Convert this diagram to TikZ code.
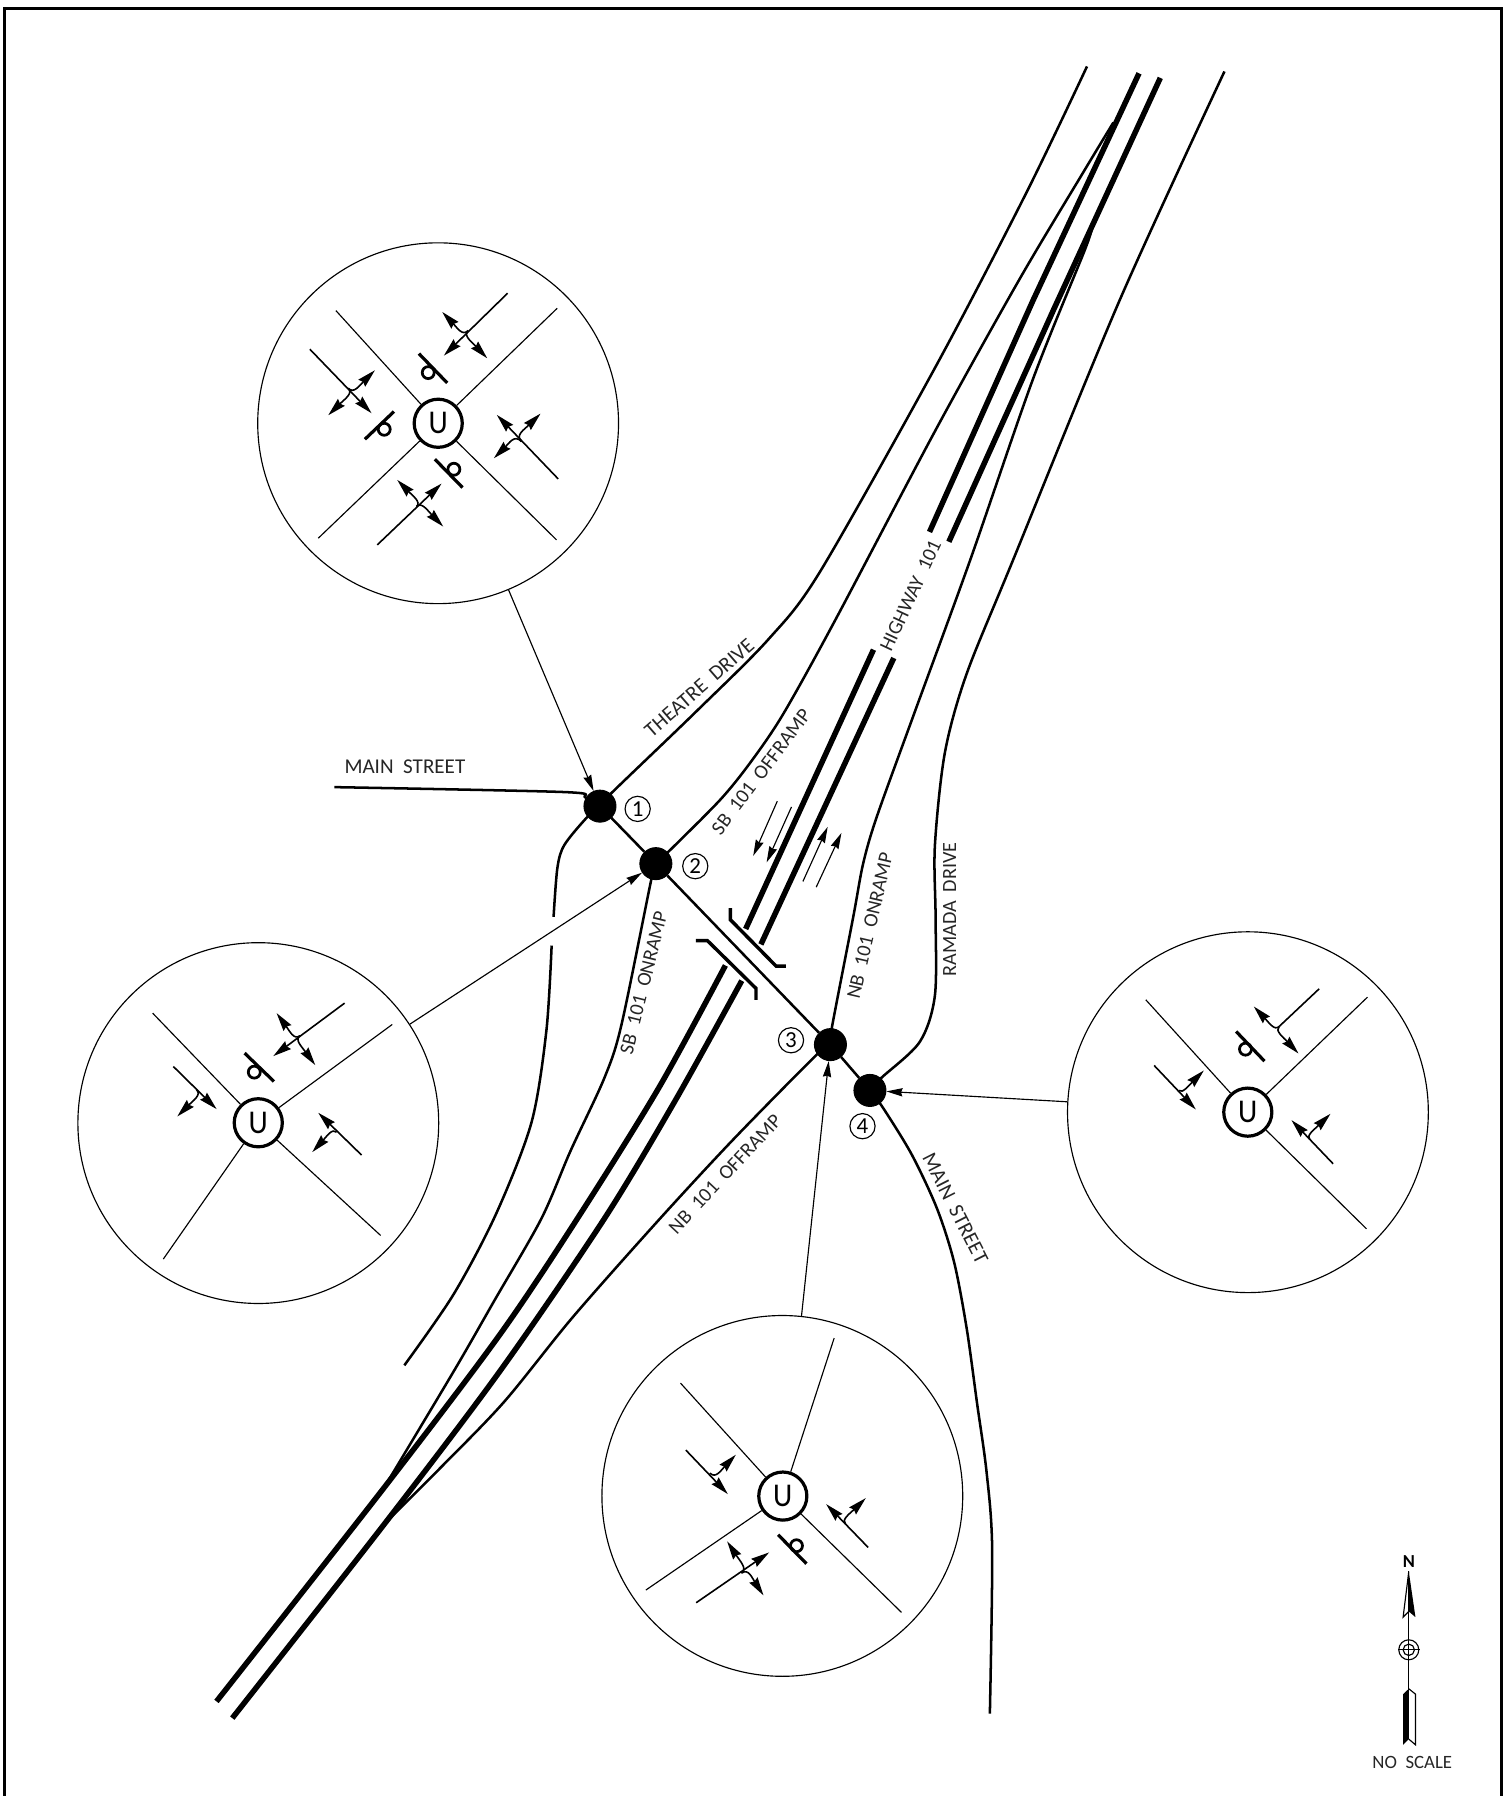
\documentclass[tikz,border=0pt]{standalone}
\usepackage{fontspec}
\setmainfont[WordSpace=2]{Carlito}
\usetikzlibrary{arrows.meta,calc}
\tikzset{
  road/.style={line width=1.1pt,line join=round},
  hwy/.style={line width=2.4pt,line join=round},
  bridge/.style={line width=1.5pt,line join=miter},
  hair/.style={line width=0.5pt},
  lane/.style={line width=0.7pt},
  tipA/.style={-{Stealth[length=8pt,width=4.2pt,inset=0.8pt]}},
  leader/.style={hair,-{Stealth[length=7pt,width=3.6pt,inset=0.6pt]}},
  junction/.style={circle,fill=black,draw=black,inner sep=0pt,minimum size=14pt},
  numbered/.style={circle,draw=black,line width=0.5pt,inner sep=0pt,minimum size=11pt,font=\fontsize{10}{11}\selectfont},
  callout/.style={circle,draw=black,line width=0.5pt,inner sep=0pt,minimum size=157.5pt},
  signal/.style={circle,draw=black,line width=1.4pt,inner sep=0pt,minimum size=21pt,font=\fontsize{14.5}{15}\selectfont},
  label/.style={inner sep=0pt,text=black!85,font=\fontsize{9.2}{11}\selectfont},
  ramp/.style={label,font=\fontsize{8.8}{11}\selectfont},
  zoomed/.style={x=0.14548pt,y=-0.14548pt},
}
\newcommand{\turnarrow}[3]{%
  \coordinate (tk) at ($(#2)!(#3)!(#1)$);
  \coordinate (tc) at ($(#2)!1.4!(tk)$);
  \coordinate (td) at ($(tk)!0.3!(#3)$);
  \coordinate (tm) at ($(tk)!0.55!(#3)$);
  \draw[lane,tipA] (#2) .. controls (tc) and (td) .. (tm) -- (#3);}
\newcommand{\barloop}[3]{\draw[line width=1.4pt] (#1) -- (#2); \draw[line width=1.2pt] (#3) circle[radius=18];}
\begin{document}
\begin{tikzpicture}[x=0.5pt,y=-0.5pt]
\clip (0,0) rectangle (1312,1568);
\draw[line width=1.5pt] (3.9,7.4) rectangle (1311,1580);

% junctions and callouts
\node[junction] (j1) at (523.8,703.8) {};
\node[junction] (j2) at (572.6,754) {};
\node[junction] (j3) at (725,912) {};
\node[junction] (j4) at (759.5,952) {};
\node[numbered] (n1) at (556.7,706.2) {1};
\node[numbered] (n2) at (607,756.2) {2};
\node[numbered] (n3) at (690.6,908.2) {3};
\node[numbered] (n4) at (753,983.2) {4};
\node[callout] (c1) at (382.5,369.5) {};
\node[callout] (c2) at (225.5,980.5) {};
\node[callout] (c3) at (683,1306) {};
\node[callout] (c4) at (1089.5,971) {};
\draw[leader] (c1) -- (j1);
\draw[leader] (c2) -- (j2);
\draw[leader] (c3) -- (j3);
\draw[leader] (c4) -- (j4);

% main cross street
\draw[road] (j1) -- (j2) -- (j3) -- (j4);

% highway
\draw[hwy] (994.4,64) -- (902,262) -- (811.5,464.4);
\draw[hwy] (1013,68) -- (920,270) -- (828.4,473);
\draw[hwy] (762.6,567.2) -- (651,811);
\draw[hwy] (780.3,574.5) -- (664.3,824.5);
\draw[hwy] plot[smooth,tension=0.5] coordinates {(633.3,842.9) (575,950) (504,1064) (436.5,1165) (337.5,1296) (189,1485.4)};
\draw[hwy] plot[smooth,tension=0.5] coordinates {(647.6,856.2) (590,960) (527.6,1064) (436.5,1197) (336,1330) (202.8,1500)};

% surface roads and ramps
\draw[road] plot[smooth,tension=0.5] coordinates {(j1.center) (534.3,691.9) (608,621) (671,558) (716,499) (818,318) (896,168.4) (949,58)};
\draw[road] plot[smooth,tension=0.5] coordinates {(j2.center) (584.3,742.9) (629,698) (656,664.5) (684,623) (729.3,541.2) (817.6,374) (890.4,243.2) (946,150) (972,107)};
\draw[road] plot[smooth,tension=0.5] coordinates {(j3.center) (726,898.5) (744.9,800.6) (753.6,753.8) (765.4,713.3) (797,626) (847,489) (902,330.5) (947.1,218.2) (953,199.5)};
\draw[road] plot[smooth,tension=0.5] coordinates {(j4.center) (769.6,940.9) (803,909.6) (816.2,869.2) (816.8,800.5) (816.2,738.2) (824.9,657.2) (843.8,588.6) (884.5,488.8) (977.6,261.9) (1069,62.4)};
\draw[road] plot[smooth,tension=0.5] coordinates {(292,687.2) (492.6,691.5) (511,696.2) (j1.center)};
\draw[road] plot[smooth,tension=0.5] coordinates {(j1.center) (511.6,714.5) (492.6,737.9) (486.6,757.9) (483.3,800.5)};
\draw[road] plot[smooth,tension=0.5] coordinates {(481.6,825.5) (477,900) (464,980) (433,1060) (396,1130) (353,1192)};
\draw[road] plot[smooth,tension=0.5] coordinates {(j2.center) (568.6,767.9) (542.6,894.5) (527.6,941.2) (498,1005) (472.6,1064) (432,1134.8) (398.6,1193) (344.8,1283) (337,1296)};
\draw[road] plot[smooth,tension=0.5] coordinates {(j3.center) (712.6,921.2) (640,995) (574.3,1066) (500,1150) (440,1224) (384,1282) (336,1330)};
\draw[road] plot[smooth,tension=0.5] coordinates {(j4.center) (771,967.3) (796,1008) (818,1055) (833,1102) (844,1160) (853,1225) (861.3,1285) (866.2,1352) (864.2,1496)};

% overpass
\draw[bridge] (637.6,792.9) -- (637.6,802.9) -- (677.6,843.5) -- (686,843.5);
\draw[bridge] (607.6,821.2) -- (617.6,821.2) -- (660,862.9) -- (660,872.9);

% direction of travel
\coordinate (d1a) at (678.6,699.5); \coordinate (d1b) at (657.6,747.2);
\coordinate (d2a) at (691,704.5);   \coordinate (d2b) at (669.3,752.9);
\coordinate (u1a) at (701,769.5);   \coordinate (u1b) at (722.6,721.9);
\coordinate (u2a) at (712.6,774.5); \coordinate (u2b) at (734.6,727.2);
\draw[leader] (d1a) -- (d1b);
\draw[leader] (d2a) -- (d2b);
\draw[leader] (u1a) -- (u1b);
\draw[leader] (u2a) -- (u2b);

% road labels
\node[label] (t1) at (353.5,669.5) {MAIN STREET};
\node[label,rotate=41] (t2) at (610.5,600.5) {THEATRE DRIVE};
\node[ramp,rotate=53] (t3) at (664.5,674) {SB 101 OFFRAMP};
\node[ramp,rotate=65] (t4) at (795,520) {HIGHWAY 101};
\node[ramp,rotate=76] (t5) at (562,858) {SB 101 ONRAMP};
\node[ramp,rotate=47] (t6) at (633,1025) {NB 101 OFFRAMP};
\node[ramp,rotate=77] (t7) at (759.5,808) {NB 101 ONRAMP};
\node[ramp,rotate=90] (t8) at (829,794) {RAMADA DRIVE};
\node[label,rotate=-63] (t9) at (834,1055) {MAIN STREET};
\node[label,font=\fontsize{8.2}{10}\selectfont] (t10) at (1233,1539) {NO SCALE};

% callout 1
\begin{scope}[shift={(218.2,209.5)},zoomed]
\node[signal] (s1) at (565,550) {\scalebox{.9}[1]{U}};
\draw[hair] (s1) -- (258,212); \draw[hair] (s1) -- (922,205); \draw[hair] (s1) -- (205,895); \draw[hair] (s1) -- (920,900);
\draw[lane,tipA] (773,160) -- (582,347); \turnarrow{773,160}{655,272}{577,216}; \turnarrow{773,160}{655,272}{712,355};
\draw[lane,tipA] (180,328) -- (365,520); \turnarrow{180,328}{295,445}{375,391}; \turnarrow{180,328}{295,445}{235,526};
\draw[lane,tipA] (925,717) -- (741,525); \turnarrow{925,717}{815,605}{872,521}; \turnarrow{925,717}{815,605}{732,655};
\draw[lane,tipA] (382,915) -- (575,731); \turnarrow{382,915}{500,800}{442,720}; \turnarrow{382,915}{500,800}{580,860};
\barloop{507,341}{592,429}{535,398}
\barloop{345,598}{432,515}{403,568}
\barloop{555,658}{638,743}{612,688}
\end{scope}

% callout 2
\begin{scope}[shift={(61.1,820.5)},zoomed]
\node[signal] (s2) at (565,549) {\scalebox{.9}[1]{U}};
\draw[hair] (s2) -- (248,220); \draw[hair] (s2) -- (967,254); \draw[hair] (s2) -- (280,958); \draw[hair] (s2) -- (932,887);
\draw[lane,tipA] (824,190) -- (610,349); \turnarrow{824,190}{690,288}{620,220}; \turnarrow{824,190}{690,288}{736,376};
\draw[lane,tipA] (310,380) -- (440,508); \turnarrow{310,380}{380,450}{322,530};
\draw[lane,tipA] (875,646) -- (745,519); \turnarrow{875,646}{800,577}{727,637};
\barloop{524,340}{612,425}{553,397}
\end{scope}

% callout 3
\begin{scope}[shift={(523.7,1143.5)},zoomed]
\node[signal] (s3) at (549,559) {\scalebox{.9}[1]{U}};
\draw[hair] (s3) -- (242,220); \draw[hair] (s3) -- (703,85); \draw[hair] (s3) -- (138,841); \draw[hair] (s3) -- (905,908);
\draw[lane,tipA] (258,421) -- (384,553); \turnarrow{258,421}{330,490}{408,435};
\draw[lane,tipA] (805,713) -- (679,583); \turnarrow{805,713}{737,643}{798,565};
\draw[lane,tipA] (289,879) -- (508,728); \turnarrow{289,879}{425,790}{382,695}; \turnarrow{289,879}{425,790}{491,857};
\barloop{535,675}{620,762}{590,708}
\end{scope}

% callout 4
\begin{scope}[shift={(925.3,811.8)},zoomed]
\node[signal] (s4) at (564,547) {\scalebox{.9}[1]{U}};
\draw[hair] (s4) -- (258,210); \draw[hair] (s4) -- (923,202); \draw[hair] (s4) -- (920,897);
\draw[lane] (778,177) -- (658,290); \turnarrow{778,177}{658,290}{582,230}; \turnarrow{778,177}{658,290}{716,371};
\draw[lane,tipA] (283,407) -- (408,539); \turnarrow{283,407}{358,482}{432,422};
\draw[lane,tipA] (820,702) -- (695,571); \turnarrow{820,702}{750,630}{812,552};
\barloop{529,305}{614,394}{557,358}
\end{scope}

% north arrow
\begin{scope}[shift={(1169.7,1335.6)},zoomed]
\node[inner sep=0pt,font=\bfseries\fontsize{8}{9}\selectfont] (north) at (207,95) {N};
\draw[hair] (207,125) -- (207,628);
\draw[hair] (207,125) -- (190,262) -- (207,245);
\fill (207,125) -- (227,262) -- (207,245) -- cycle;
\draw[hair,fill=white] (207,360) circle[radius=30];
\draw[hair] (207,360) circle[radius=17];
\draw[hair] (175,360) -- (242,360);
\draw[hair] (207,330) -- (207,390);
\fill (190,493) -- (207,477) -- (207,628) -- (190,645) -- cycle;
\draw[hair] (207,477) -- (227,493) -- (227,645) -- (207,628);
\end{scope}
\end{tikzpicture}
\end{document}
